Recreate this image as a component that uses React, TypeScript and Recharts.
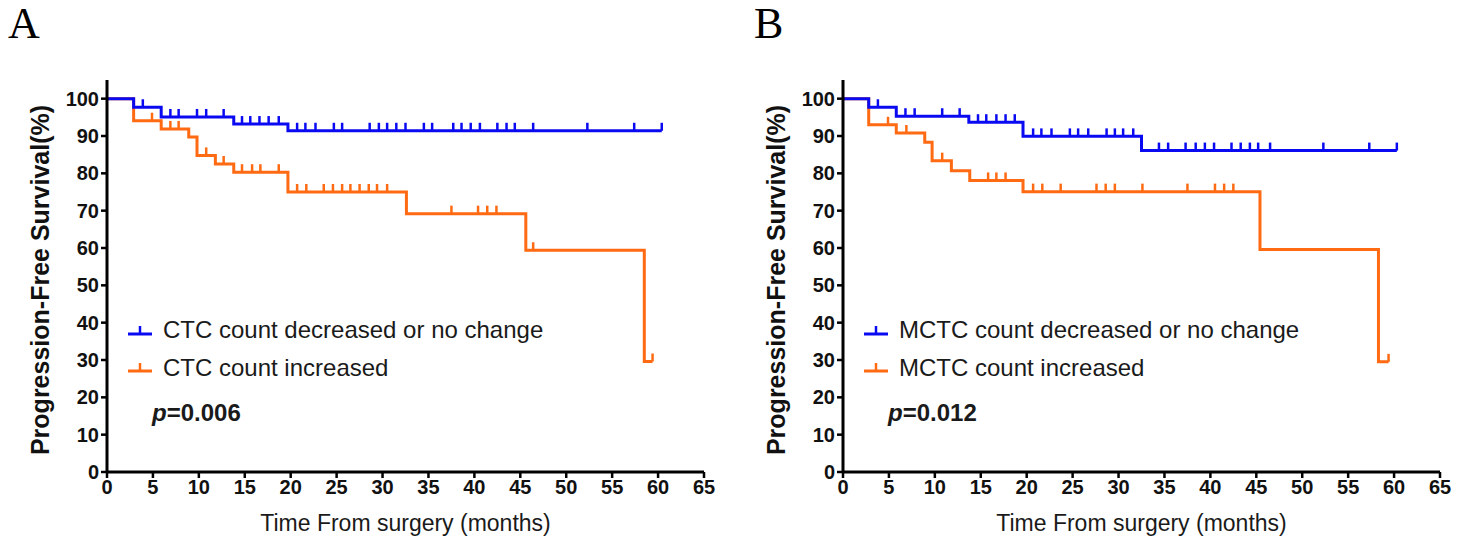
import { ComposedChart, Legend, Line, Scatter, XAxis, YAxis } from "recharts";

const FONT = "Arial, 'Liberation Sans', sans-serif";
const BLUE = "#0A0AF2";
const ORANGE = "#FF6A13";

const xTicks = [0, 5, 10, 15, 20, 25, 30, 35, 40, 45, 50, 55, 60, 65];
const yTicks = [0, 10, 20, 30, 40, 50, 60, 70, 80, 90, 100];

// panel A - CTC
const aLowTimes = [0, 2.9, 5.9, 13.8, 19.7, 60.4];
const aLowSurv = [100, 97.7, 95.1, 93.2, 91.4, 91.4];
const aLowCensor = [3.9, 6.9, 7.8, 9.8, 10.8, 12.7, 14.7, 15.6, 16.6, 17.6, 18.7, 20.7, 21.6, 22.7, 24.7, 25.6, 28.6, 29.6, 30.5, 31.5, 32.5, 34.5, 35.4, 37.7, 38.6, 39.6, 40.6, 42.5, 43.5, 44.4, 46.4, 52.3, 57.4, 60.4];
const aHighTimes = [0, 2.9, 5.9, 8.9, 9.8, 11.8, 13.8, 19.7, 32.6, 45.6, 58.5, 59.4];
const aHighSurv = [100, 94.1, 91.9, 89.7, 84.8, 82.5, 80.3, 75.0, 69.2, 59.4, 29.6, 29.6];
const aHighCensor = [4.9, 6.9, 7.8, 10.8, 12.7, 14.7, 15.8, 16.7, 18.7, 20.7, 21.7, 23.6, 24.6, 25.6, 26.5, 27.5, 28.5, 29.4, 30.5, 37.5, 40.4, 41.4, 42.4, 46.4, 59.4];

// panel B - MCTC
const bLowTimes = [0, 2.8, 5.8, 13.7, 19.6, 32.5, 60.3];
const bLowSurv = [100, 97.7, 95.3, 93.7, 89.9, 86.1, 86.1];
const bLowCensor = [3.8, 6.8, 7.8, 10.8, 12.7, 14.7, 15.6, 16.7, 17.7, 18.7, 20.7, 21.6, 22.7, 24.7, 25.6, 26.7, 28.7, 29.6, 30.5, 31.6, 34.4, 35.4, 37.3, 38.4, 39.4, 40.4, 42.3, 43.3, 44.3, 45.2, 46.5, 52.3, 57.3, 60.3];
const bHighTimes = [0, 2.8, 5.8, 8.9, 9.7, 11.8, 13.8, 19.6, 45.4, 58.3, 59.4];
const bHighSurv = [100, 93.0, 90.8, 88.3, 83.4, 80.7, 78.1, 75.1, 59.6, 29.5, 29.5];
const bHighCensor = [4.9, 6.9, 10.8, 15.8, 16.7, 17.7, 20.7, 21.7, 23.7, 27.6, 28.6, 29.6, 32.6, 37.5, 40.5, 41.5, 42.5, 59.4];

type Pt = { t: number; s: number };

function steps(times: number[], surv: number[]): Pt[] {
  return times.map((t, i) => ({ t, s: surv[i] }));
}

// survival level at each censor time, looked up on the step curve
function censored(cens: number[], times: number[], surv: number[]): Pt[] {
  return cens.map((t) => {
    let s = surv[0];
    times.forEach((tt, i) => {
      if (tt <= t) s = surv[i];
    });
    return { t, s };
  });
}

const censorMark = (color: string) => (p: any) => (
  <line x1={p.cx} x2={p.cx} y1={p.cy} y2={p.cy - 8} stroke={color} strokeWidth={2.5} />
);

function Marker({ color }: { color: string }) {
  return (
    <svg width={24} height={14} style={{ verticalAlign: "middle", marginRight: 11 }}>
      <line x1={0} x2={24} y1={11} y2={11} stroke={color} strokeWidth={3} />
      <line x1={12} x2={12} y1={11} y2={3} stroke={color} strokeWidth={2.5} />
    </svg>
  );
}

type PanelProps = {
  left: number;
  letter: string;
  letterLeft: number;
  lowLabel: string;
  highLabel: string;
  pValue: string;
  low: Pt[];
  lowCens: Pt[];
  high: Pt[];
  highCens: Pt[];
};

function KMPanel(props: PanelProps) {
  const { left, letter, letterLeft, lowLabel, highLabel, pValue, low, lowCens, high, highCens } = props;
  const legend = () => (
    <div style={{ fontFamily: FONT, fontSize: 24, color: "#1a1a1a", lineHeight: "36px", whiteSpace: "nowrap" }}>
      <div>
        <Marker color={BLUE} />
        <span style={{ verticalAlign: "middle" }}>{lowLabel}</span>
      </div>
      <div>
        <Marker color={ORANGE} />
        <span style={{ verticalAlign: "middle" }}>{highLabel}</span>
      </div>
      <div style={{ fontWeight: "bold", marginLeft: 24, marginTop: 10 }}>
        <i>p</i>={pValue}
      </div>
    </div>
  );
  return (
    <div style={{ position: "absolute", left, top: 0 }}>
      <div style={{ position: "absolute", left: letterLeft, top: 2, fontFamily: "'Liberation Serif', 'Times New Roman', serif", fontSize: 44, lineHeight: 1 }}>
        {letter}
      </div>
      <ComposedChart width={730} height={546} margin={{ top: 80, right: 26, bottom: 0, left: 0 }}>
        <XAxis
          type="number"
          dataKey="t"
          domain={[0, 65]}
          ticks={xTicks}
          allowDataOverflow
          height={74}
          stroke="#000"
          tickLine={{ stroke: "#000", strokeWidth: 2.5 }}
          axisLine={{ stroke: "#000", strokeWidth: 3 }}
          tick={{ fill: "#111", fontSize: 20, fontWeight: "bold", fontFamily: FONT }}
          label={{
            content: ({ viewBox }: any) => (
              <text x={viewBox.x + viewBox.width / 2} y={viewBox.y + 51} textAnchor="middle" dominantBaseline="central" fontSize={23} fontFamily={FONT} fill="#1a1a1a">
                Time From surgery (months)
              </text>
            ),
          }}
        />
        <YAxis
          type="number"
          dataKey="s"
          domain={[0, 105]}
          ticks={yTicks}
          allowDataOverflow
          width={107}
          stroke="#000"
          tickLine={{ stroke: "#000", strokeWidth: 2.5 }}
          axisLine={{ stroke: "#000", strokeWidth: 3 }}
          tick={{ fill: "#111", fontSize: 20, fontWeight: "bold", fontFamily: FONT }}
          label={{
            content: ({ viewBox }: any) => {
              const cy = viewBox.y + viewBox.height / 2 + 4;
              return (
                <text x={40} y={cy} transform={`rotate(-90, 40, ${cy})`} textAnchor="middle" dominantBaseline="central" fontSize={25} fontWeight="bold" fontFamily={FONT} fill="#111">
                  Progression-Free Survival(%)
                </text>
              );
            },
          }}
        />
        <Legend layout="horizontal" verticalAlign="middle" align="center" content={legend} wrapperStyle={{ left: 128, top: 310, width: "auto", height: "auto" }} />
        <Line data={high} dataKey="s" type="stepAfter" stroke={ORANGE} strokeWidth={3} dot={false} isAnimationActive={false} />
        <Scatter data={highCens} dataKey="s" fill={ORANGE} shape={censorMark(ORANGE)} isAnimationActive={false} />
        <Line data={low} dataKey="s" type="stepAfter" stroke={BLUE} strokeWidth={3} dot={false} isAnimationActive={false} />
        <Scatter data={lowCens} dataKey="s" fill={BLUE} shape={censorMark(BLUE)} isAnimationActive={false} />
      </ComposedChart>
    </div>
  );
}

export default function App() {
  return (
    <div style={{ position: "absolute", left: 0, top: 0, width: 1465, height: 546, background: "#fff", overflow: "hidden" }}>
      <KMPanel
        left={0}
        letter="A"
        letterLeft={8}
        lowLabel="CTC count decreased or no change"
        highLabel="CTC count increased"
        pValue="0.006"
        low={steps(aLowTimes, aLowSurv)}
        lowCens={censored(aLowCensor, aLowTimes, aLowSurv)}
        high={steps(aHighTimes, aHighSurv)}
        highCens={censored(aHighCensor, aHighTimes, aHighSurv)}
      />
      <KMPanel
        left={736}
        letter="B"
        letterLeft={18}
        lowLabel="MCTC count decreased or no change"
        highLabel="MCTC count increased"
        pValue="0.012"
        low={steps(bLowTimes, bLowSurv)}
        lowCens={censored(bLowCensor, bLowTimes, bLowSurv)}
        high={steps(bHighTimes, bHighSurv)}
        highCens={censored(bHighCensor, bHighTimes, bHighSurv)}
      />
    </div>
  );
}
